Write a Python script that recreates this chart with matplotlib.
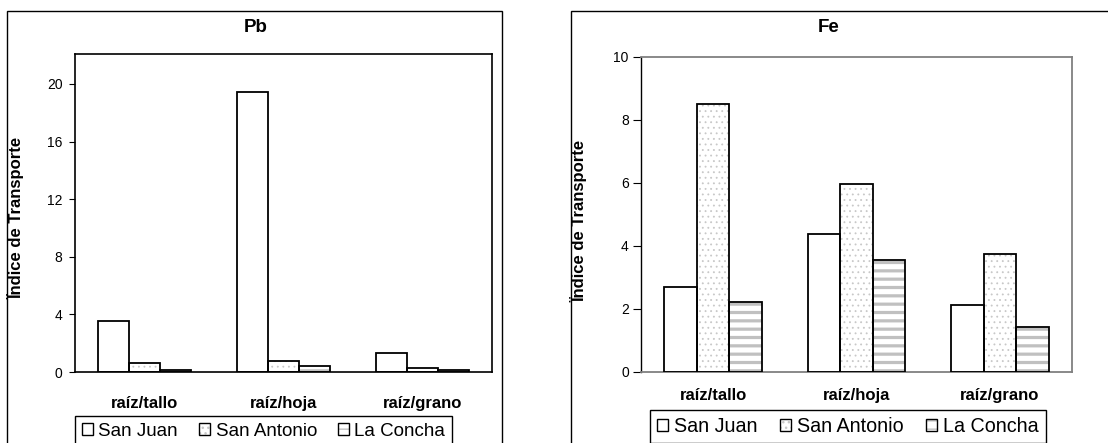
import matplotlib
matplotlib.use("Agg")
import matplotlib.pyplot as plt
from matplotlib.patches import Rectangle, Patch
from matplotlib.legend_handler import HandlerTuple
import numpy as np

plt.rcParams['font.family'] = ['Liberation Sans', 'DejaVu Sans']

categories = ["raíz/tallo", "raíz/hoja", "raíz/grano"]
series_names = ["San Juan", "San Antonio", "La Concha"]
pb_san_juan = [3.55, 19.45, 1.3]
pb_san_antonio = [0.65, 0.78, 0.25]
pb_la_concha = [0.12, 0.42, 0.12]
fe_san_juan = [2.7, 4.38, 2.12]
fe_san_antonio = [8.49, 5.96, 3.74]
fe_la_concha = [2.21, 3.55, 1.42]
pb_yticks = [0, 4, 8, 12, 16, 20]
fe_yticks = [0, 2, 4, 6, 8, 10]

W, H = 1108, 443
fig = plt.figure(figsize=(W / 100, H / 100), dpi=100)

# panel borders
fig.add_artist(Rectangle((7 / W, -0.05), (502 - 7) / W, 1 - 11 / H + 0.05,
                         transform=fig.transFigure, fill=False, edgecolor='black', lw=1.0))
fig.add_artist(Rectangle((571 / W, -0.05), 1.0, 1 - 11 / H + 0.05,
                         transform=fig.transFigure, fill=False, edgecolor='black', lw=1.0))

styles = [
    dict(hatch=None, hcolor='white', hlw=0.5),
    dict(hatch='...', hcolor='#c8c8c8', hlw=0.6),
    dict(hatch='--', hcolor='#c0c0c0', hlw=2.3),
]


def draw_bars(ax, data, width):
    x = np.arange(len(categories))
    offsets = [-width, 0, width]
    for vals, off, st in zip(data, offsets, styles):
        if st['hatch']:
            with plt.rc_context({'hatch.linewidth': st['hlw']}):
                ax.bar(x + off, vals, width, color='white', edgecolor=st['hcolor'],
                       hatch=st['hatch'], linewidth=0, zorder=2)
        ax.bar(x + off, vals, width, fill=False, edgecolor='black', linewidth=1.3, zorder=3)
    ax.set_xticks(x)
    ax.set_xticklabels(categories, fontsize=12, fontweight='bold')
    ax.set_xlim(-0.5, len(categories) - 0.5)


def legend_handles():
    handles = []
    for st in styles:
        if st['hatch']:
            with plt.rc_context({'hatch.linewidth': st['hlw']}):
                p1 = Patch(facecolor='white', edgecolor=st['hcolor'], hatch=st['hatch'], linewidth=0)
            p2 = Patch(fill=False, edgecolor='black', linewidth=1.0)
            handles.append((p1, p2))
        else:
            handles.append(Patch(facecolor='white', edgecolor='black', linewidth=1.0))
    return handles


# ---- Pb ----
ax1 = fig.add_axes([75 / W, 1 - 372 / H, (492 - 75) / W, (372 - 54) / H])
draw_bars(ax1, [pb_san_juan, pb_san_antonio, pb_la_concha], 0.224)
ax1.set_ylim(0, 22.08)
ax1.set_yticks(pb_yticks)
ax1.tick_params(axis='y', labelsize=10, length=4, pad=5)
ax1.tick_params(axis='x', length=0, pad=17)
for s in ax1.spines.values():
    s.set_linewidth(1.2)
ax1.set_ylabel("Ïndice de Transporte", fontsize=12, fontweight='bold')
ax1.yaxis.set_label_coords(-0.122, 0.484)
fig.text(256 / W, 1 - 28 / H, "Pb", fontsize=13.5, fontweight='bold', ha='center', va='center')

# ---- Fe ----
ax2 = fig.add_axes([641.3 / W, 1 - 371.7 / H, (1071.7 - 641.3) / W, (371.7 - 56.7) / H])
draw_bars(ax2, [fe_san_juan, fe_san_antonio, fe_la_concha], 0.226)
ax2.set_ylim(0, 10)
ax2.set_yticks(fe_yticks)
ax2.tick_params(axis='y', labelsize=10, length=6, pad=3)
ax2.tick_params(axis='x', length=0, pad=12)
for k in ['top', 'right', 'bottom']:
    ax2.spines[k].set_color('#808080')
    ax2.spines[k].set_linewidth(1.3)
ax2.spines['left'].set_linewidth(1.0)
ax2.set_ylabel("Ïndice de Transporte", fontsize=12, fontweight='bold')
ax2.yaxis.set_label_coords(-0.126, 0.48)
fig.text(829 / W, 1 - 28 / H, "Fe", fontsize=13.5, fontweight='bold', ha='center', va='center')

# legends
for (lx, ly, fs) in [(75, 416, 13.5), (649.7, 410, 14.2)]:
    leg = fig.legend(legend_handles(), series_names, loc='upper left',
                     bbox_to_anchor=(lx / W, 1 - ly / H), ncol=3, fontsize=fs,
                     frameon=True, fancybox=False, framealpha=1, edgecolor='black',
                     borderaxespad=0, handlelength=0.6, handleheight=0.6,
                     handletextpad=0.3, columnspacing=1.1, borderpad=0.35,
                     handler_map={tuple: HandlerTuple(ndivide=1, pad=0)})
    leg.get_frame().set_linewidth(1.0)

fig.savefig("out.png", dpi=100)
